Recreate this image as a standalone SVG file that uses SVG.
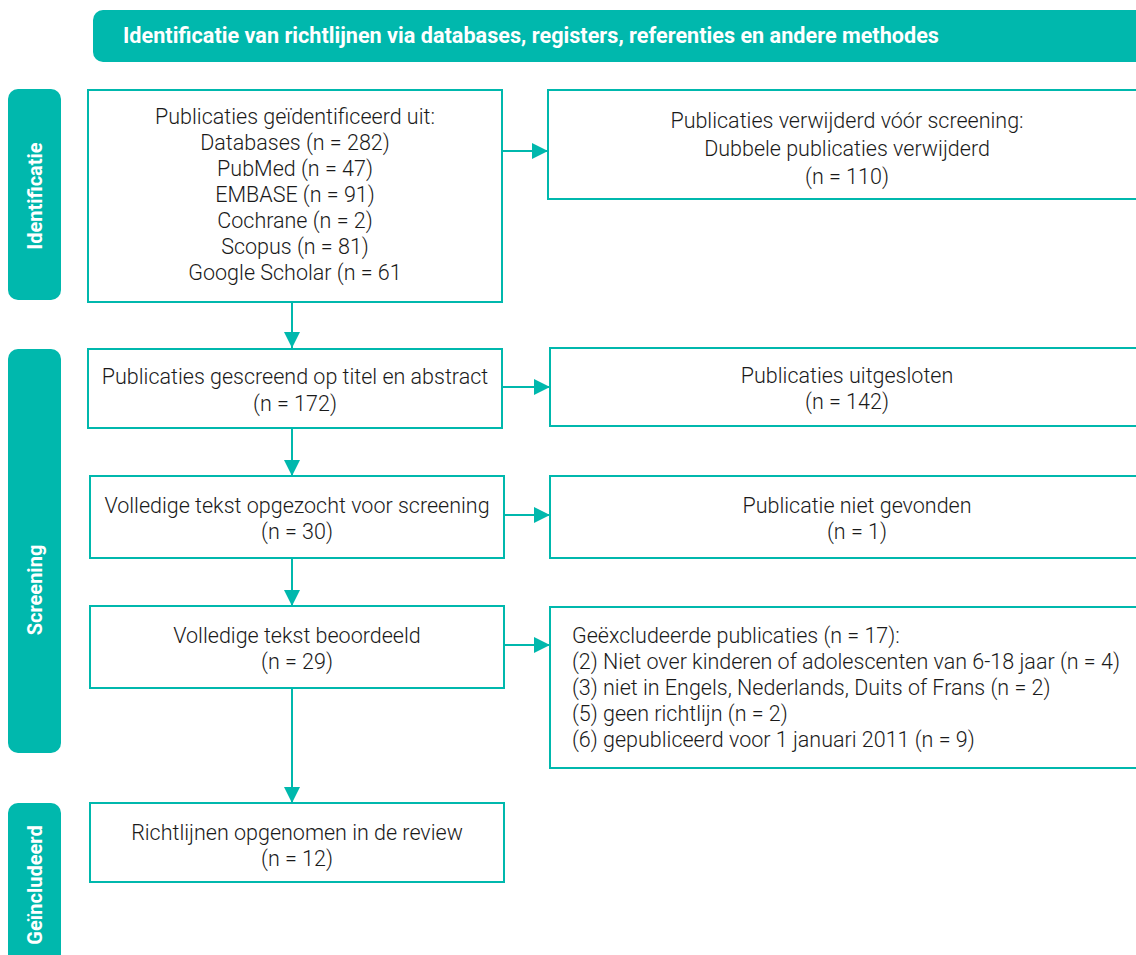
<svg xmlns="http://www.w3.org/2000/svg" width="1136" height="955" viewBox="0 0 1136 955">
<style>
.box{fill:#fff;stroke:#00b8ad;stroke-width:2}
.side{fill:#00b8ad}
.t{font-family:Roboto,"Liberation Sans",sans-serif;font-size:21.5px;font-weight:300;fill:#1a1a1a}
.c{text-anchor:middle}
.st{font-family:Roboto,"Liberation Sans",sans-serif;font-size:20px;font-weight:700;fill:#fff;text-anchor:middle}
.ln{stroke:#00b8ad;stroke-width:2;fill:none}
</style>
<defs>
<marker id="ah" viewBox="0 0 16 16" refX="16" refY="8" markerWidth="16" markerHeight="16" markerUnits="userSpaceOnUse" orient="auto">
<path d="M0,0 L16,8 L0,16 Z" fill="#00b8ad"/>
</marker>
</defs>
<rect width="1136" height="955" fill="#fff"/>
<g id="header">
<rect x="93" y="10" width="1060" height="52" rx="10" fill="#00b8ad"/>
<text x="123" y="43" font-family="Roboto,'Liberation Sans',sans-serif" font-size="21.5" font-weight="700" fill="#fff" textLength="816" lengthAdjust="spacingAndGlyphs">Identificatie van richtlijnen via databases, registers, referenties en andere methodes</text>
</g>
<g id="side-identificatie">
<rect class="side" x="8" y="89" width="53" height="211" rx="10"/>
<text class="st" transform="translate(42,196) rotate(-90)">Identificatie</text>
</g>
<g id="side-screening">
<rect class="side" x="8" y="349" width="53" height="404" rx="10"/>
<text class="st" transform="translate(42,590) rotate(-90)">Screening</text>
</g>
<g id="side-geincludeerd">
<rect class="side" x="8" y="803" width="53" height="170" rx="10"/>
<text class="st" transform="translate(42,885) rotate(-90)">Geïncludeerd</text>
</g>
<g id="connectors">
<line class="ln" x1="502" y1="151" x2="548" y2="151" marker-end="url(#ah)"/>
<line class="ln" x1="502" y1="387" x2="550" y2="387" marker-end="url(#ah)"/>
<line class="ln" x1="504" y1="515" x2="550" y2="515" marker-end="url(#ah)"/>
<line class="ln" x1="504" y1="645" x2="550" y2="645" marker-end="url(#ah)"/>
<line class="ln" x1="292" y1="303" x2="292" y2="348" marker-end="url(#ah)"/>
<line class="ln" x1="292" y1="429" x2="292" y2="476" marker-end="url(#ah)"/>
<line class="ln" x1="292" y1="559" x2="292" y2="606" marker-end="url(#ah)"/>
<line class="ln" x1="292" y1="689" x2="292" y2="803" marker-end="url(#ah)"/>
</g>
<g id="n-identified">
<rect class="box" x="88" y="90" width="414" height="212"/>
<text class="t c" x="295" y="124">Publicaties geïdentificeerd uit:</text>
<text class="t c" x="295" y="150">Databases (n = 282)</text>
<text class="t c" x="295" y="176">PubMed (n = 47)</text>
<text class="t c" x="295" y="202">EMBASE (n = 91)</text>
<text class="t c" x="295" y="228">Cochrane (n = 2)</text>
<text class="t c" x="295" y="254">Scopus (n = 81)</text>
<text class="t c" x="295" y="280">Google Scholar (n = 61</text>
</g>
<g id="n-removed">
<rect class="box" x="548" y="90" width="600" height="109"/>
<text class="t c" x="847" y="128">Publicaties verwijderd vóór screening:</text>
<text class="t c" x="847" y="156">Dubbele publicaties verwijderd</text>
<text class="t c" x="847" y="184">(n = 110)</text>
</g>
<g id="n-screened">
<rect class="box" x="88" y="349" width="414" height="79"/>
<text class="t c" x="295" y="384">Publicaties gescreend op titel en abstract</text>
<text class="t c" x="295" y="411">(n = 172)</text>
</g>
<g id="n-excluded">
<rect class="box" x="550" y="348" width="600" height="78"/>
<text class="t c" x="847" y="383">Publicaties uitgesloten</text>
<text class="t c" x="847" y="409">(n = 142)</text>
</g>
<g id="n-retrieved">
<rect class="box" x="90" y="476" width="414" height="82"/>
<text class="t c" x="297" y="513">Volledige tekst opgezocht voor screening</text>
<text class="t c" x="297" y="539">(n = 30)</text>
</g>
<g id="n-notfound">
<rect class="box" x="550" y="476" width="600" height="82"/>
<text class="t c" x="857" y="513">Publicatie niet gevonden</text>
<text class="t c" x="857" y="539">(n = 1)</text>
</g>
<g id="n-assessed">
<rect class="box" x="90" y="606" width="414" height="82"/>
<text class="t c" x="297" y="643">Volledige tekst beoordeeld</text>
<text class="t c" x="297" y="669">(n = 29)</text>
</g>
<g id="n-reasons">
<rect class="box" x="550" y="607" width="600" height="161"/>
<text class="t" x="572" y="643">Geëxcludeerde publicaties (n = 17):</text>
<text class="t" x="572" y="669">(2) Niet over kinderen of adolescenten van 6-18 jaar (n = 4)</text>
<text class="t" x="572" y="695">(3) niet in Engels, Nederlands, Duits of Frans (n = 2)</text>
<text class="t" x="572" y="721">(5) geen richtlijn (n = 2)</text>
<text class="t" x="572" y="747">(6) gepubliceerd voor 1 januari 2011 (n = 9)</text>
</g>
<g id="n-included">
<rect class="box" x="90" y="803" width="414" height="79"/>
<text class="t c" x="297" y="840">Richtlijnen opgenomen in de review</text>
<text class="t c" x="297" y="866">(n = 12)</text>
</g>
</svg>
